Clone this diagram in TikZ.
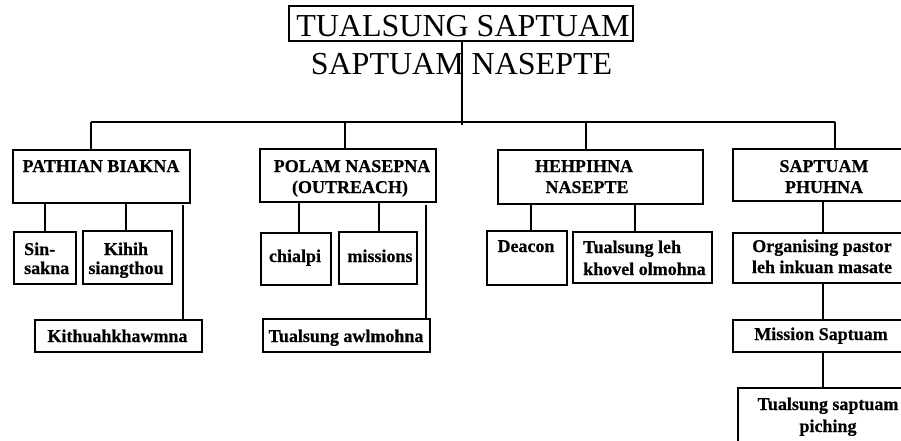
\documentclass[tikz,border=0pt]{standalone}
\usepackage{fontspec}
\setmainfont{Liberation Serif}[BoldFeatures={FakeBold=0.6}]
\begin{document}
\begin{tikzpicture}[x=1pt,y=-1pt,
  box/.style={draw, line width=2pt, rectangle, inner sep=0pt, outer sep=0pt, anchor=north west},
  lbl/.style={font=\fontsize{18}{19}\selectfont\bfseries, inner sep=0pt, anchor=base},
  lblw/.style={lbl, anchor=base west},
  big/.style={font=\fontsize{32}{34}\selectfont, inner sep=0pt, anchor=base},
  conn/.style={line width=2pt},
]
\useasboundingbox (0,0) rectangle (901,441);
\clip (0,0) rectangle (901,441);

% title
\node[box, line width=1.6pt, minimum width=344pt, minimum height=35pt] (title) at (289,6) {};
\node[big] (ttitle) at (463,37) {TUALSUNG SAPTUAM};
\node[big] (tsub) at (461.5,75) {SAPTUAM NASEPTE};

% level 1 boxes
\node[box, minimum width=177pt, minimum height=53pt] (pb) at (13,150) {};
\node[box, minimum width=176pt, minimum height=53pt] (po) at (260,149) {};
\node[box, minimum width=205pt, minimum height=54pt] (he) at (498,150) {};
\node[box, minimum width=190pt, minimum height=52pt] (sp) at (733,149) {};

\node[lbl] (tpb) at (101,172) {PATHIAN BIAKNA};
\node[lbl] (tpo1) at (352,172) {POLAM NASEPNA};
\node[lbl] (tpo2) at (350,193) {(OUTREACH)};
\node[lbl] (the1) at (584,172) {HEHPIHNA};
\node[lbl] (the2) at (587,193) {NASEPTE};
\node[lbl] (tsp1) at (824,172) {SAPTUAM};
\node[lbl] (tsp2) at (824,193) {PHUHNA};

% level 2 boxes
\node[box, minimum width=62pt, minimum height=52pt] (sin) at (14,232) {};
\node[box, minimum width=89pt, minimum height=53pt] (ki) at (83,231) {};
\node[box, minimum width=167pt, minimum height=32pt] (kt) at (35,320) {};
\node[box, minimum width=70pt, minimum height=52pt] (ch) at (261,233) {};
\node[box, minimum width=78pt, minimum height=52pt] (mi) at (339,232) {};
\node[box, minimum width=167pt, minimum height=33pt] (aw) at (263,319) {};
\node[box, minimum width=80pt, minimum height=54pt] (de) at (487,231) {};
\node[box, minimum width=139pt, minimum height=51pt] (kh) at (573,232) {};
\node[box, minimum width=190pt, minimum height=50pt] (or) at (733,233) {};
\node[box, minimum width=190pt, minimum height=32pt] (ms) at (733,320) {};
\node[box, minimum width=190pt, minimum height=70pt] (pi) at (738,388) {};

\node[lblw] (tsin1) at (24,255) {Sin-};
\node[lblw] (tsin2) at (24,274) {sakna};
\node[lbl] (tki1) at (126,255) {Kihih};
\node[lbl] (tki2) at (126,274) {siangthou};
\node[lbl] (tkt) at (117.5,342) {Kithuahkhawmna};
\node[lbl] (tch) at (295,262) {chialpi};
\node[lbl] (tmi) at (380,262) {missions};
\node[lbl] (taw) at (346,342) {Tualsung awlmohna};
\node[lbl] (tde) at (526,252) {Deacon};
\node[lblw] (tkh1) at (583,253) {Tualsung leh};
\node[lblw] (tkh2) at (583,275) {khovel olmohna};
\node[lbl] (tor1) at (822,252) {Organising pastor};
\node[lbl] (tor2) at (822,273) {leh inkuan masate};
\node[lbl] (tms) at (821,340) {Mission Saptuam};
\node[lbl] (tpi1) at (828,410) {Tualsung saptuam};
\node[lbl] (tpi2) at (828,432) {piching};

% connectors
\coordinate (busL) at (91,121.5);
\coordinate (busR) at (835,121.5);
\coordinate (busC) at (462,125);
\draw[conn] (462,0 |- title.south) -- (busC);
\draw[conn] (busL) -- (busR);
\draw[conn] (busL) -- (busL |- pb.north);
\draw[conn] (345,121.5) -- (345,0 |- po.north);
\draw[conn] (586,121.5) -- (586,0 |- he.north);
\draw[conn] (busR) -- (busR |- sp.north);

\draw[conn] (45,0 |- pb.south) -- (45,0 |- sin.north);
\draw[conn] (126,0 |- pb.south) -- (126,0 |- ki.north);
\draw[conn] (183,205) -- (183,0 |- kt.north);
\draw[conn] (299,0 |- po.south) -- (299,0 |- ch.north);
\draw[conn] (379,0 |- po.south) -- (379,0 |- mi.north);
\draw[conn] (426,205) -- (426,0 |- aw.north);
\draw[conn] (531,0 |- he.south) -- (531,0 |- de.north);
\draw[conn] (635,0 |- he.south) -- (635,0 |- kh.north);
\draw[conn] (823,0 |- sp.south) -- (823,0 |- or.north);
\draw[conn] (823,0 |- or.south) -- (823,0 |- ms.north);
\draw[conn] (823,0 |- ms.south) -- (823,0 |- pi.north);
\end{tikzpicture}
\end{document}
